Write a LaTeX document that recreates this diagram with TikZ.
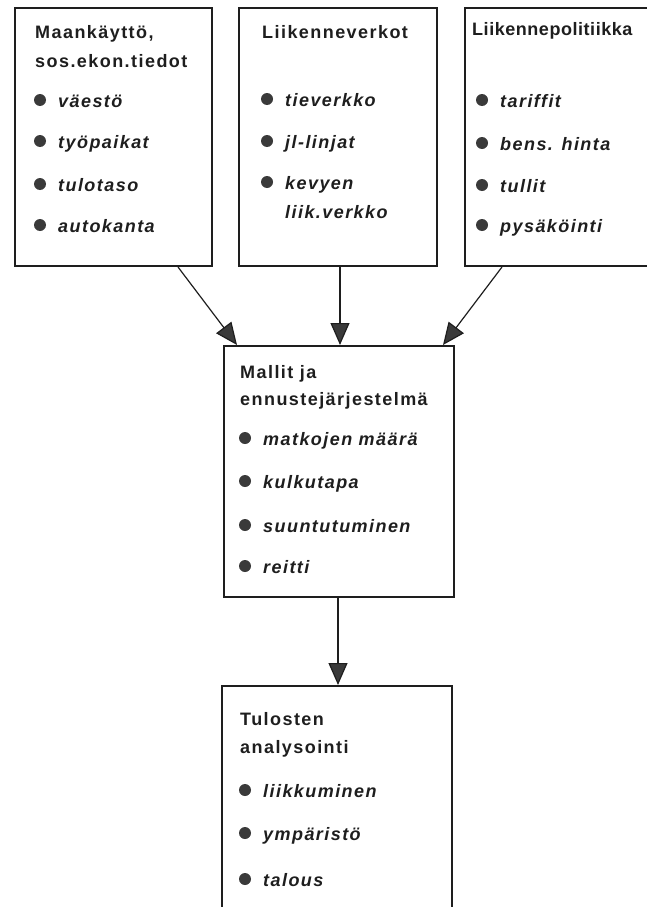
\documentclass[tikz,border=0pt]{standalone}
\usepackage{fontspec}
\setmainfont{Liberation Sans}[LetterSpace=8]
\newfontfamily\tightfont{Liberation Sans}[LetterSpace=3]
\usetikzlibrary{arrows.meta}
\definecolor{ink}{HTML}{1E1E1E}
\definecolor{dot}{HTML}{3A3A3A}
\begin{document}
\begin{tikzpicture}[x=1pt,y=-1pt,
  box/.style={draw=ink,line width=2pt,inner sep=0pt},
  head/.style={anchor=base west,inner sep=0pt,text=ink,
    font=\bfseries\fontsize{18}{21}\selectfont},
  itm/.style={anchor=base west,inner sep=0pt,text=ink,
    font=\bfseries\itshape\fontsize{18}{21}\selectfont},
  bul/.style={fill=dot},
  arr/.style={draw=ink,line width=1.2pt,
    -{Triangle[length=22pt,width=19pt,fill=dot]}}]
\useasboundingbox (0,0) rectangle (646,907);

% boxes
\node[box,minimum width=197pt,minimum height=258pt] (b1) at (113.5,137) {};
\node[box,minimum width=198pt,minimum height=258pt] (b2) at (338,137) {};
\node[box,minimum width=200pt,minimum height=258pt] (b3) at (565,137) {};
\node[box,minimum width=230pt,minimum height=251pt] (m)  at (339,471.5) {};
\node[box,minimum width=230pt,minimum height=244pt] (t)  at (337,808) {};

% land use and socio-economic data
\node[head] (h1a) at (35,38) {Maankäyttö,};
\node[head] (h1b) at (35,67) {sos.ekon.tiedot};
\foreach \n/\y/\s in {1/107/väestö,2/148/työpaikat,3/191/tulotaso,4/232/autokanta}{
  \fill[bul] (40,\y-7) circle[radius=6pt];
  \node[itm] (i1\n) at (58,\y) {\s};
}

% transport networks
\node[head] (h2) at (262,38) {Liikenneverkot};
\foreach \n/\y/\s in {1/106/tieverkko,2/148/jl-linjat,3/189/kevyen}{
  \fill[bul] (267,\y-7) circle[radius=6pt];
  \node[itm] (i2\n) at (285,\y) {\s};
}
\node[itm] (i24) at (285,218) {liik.verkko};

% transport policy
\node[head,font=\tightfont\bfseries\fontsize{18}{21}\selectfont] (h3) at (472,36) {Liikennepolitiikka};
\foreach \n/\y/\s in {1/107/tariffit,2/150/bens. hinta,3/192/tullit,4/232/pysäköinti}{
  \fill[bul] (482,\y-7) circle[radius=6pt];
  \node[itm] (i3\n) at (500,\y) {\s};
}

% models and forecasting system
\node[head] (h4a) at (240,378) {Mallit ja};
\node[head] (h4b) at (240,405) {ennustejärjestelmä};
\foreach \n/\y/\s in {1/445/matkojen määrä,2/488/kulkutapa,3/532/suuntutuminen,4/573/reitti}{
  \fill[bul] (245,\y-7) circle[radius=6pt];
  \node[itm] (i4\n) at (263,\y) {\s};
}

% analysis of results
\node[head] (h5a) at (240,725) {Tulosten};
\node[head] (h5b) at (240,753) {analysointi};
\foreach \n/\y/\s in {1/797/liikkuminen,2/840/ympäristö,3/886/talous}{
  \fill[bul] (245,\y-7) circle[radius=6pt];
  \node[itm] (i5\n) at (263,\y) {\s};
}

% connectors
\draw[arr] ([xshift=64.5pt]b1.south) -- ([xshift=-102pt]m.north);
\draw[arr] ([xshift=2pt]b2.south) -- ([xshift=1pt]m.north);
\draw[arr] ([xshift=-63pt]b3.south) -- ([xshift=104pt]m.north);
\draw[arr] ([xshift=-1pt]m.south) -- ([xshift=1pt]t.north);
\end{tikzpicture}
\end{document}
